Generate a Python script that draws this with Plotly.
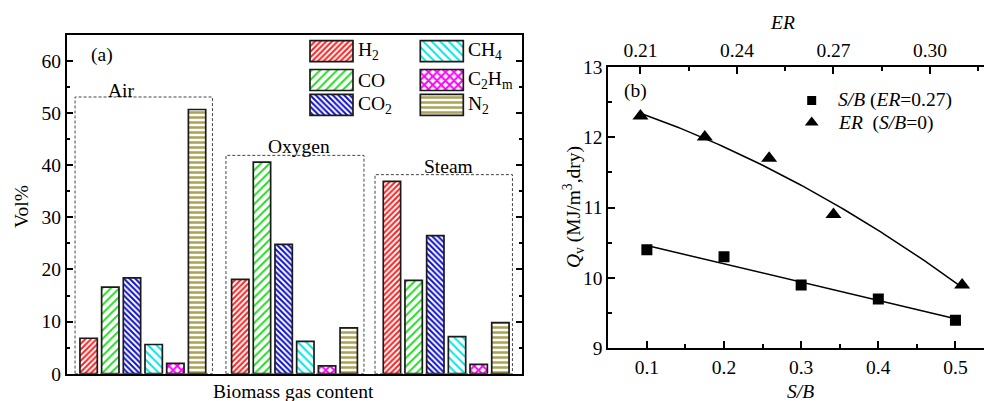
import numpy as np
import plotly.graph_objects as go

W, H = 984, 401
FONT = "Liberation Serif"
TXT = 19.5

# ---- Panel (a): gas composition for three gasifying agents ----
agents = ["Air", "Oxygen", "Steam"]
gas_labels = ["H<sub>2</sub>", "CO", "CO<sub>2</sub>", "CH<sub>4</sub>",
              "C<sub>2</sub>H<sub>m</sub>", "N<sub>2</sub>"]
h2 = [6.8, 18.1, 36.9]
co = [16.6, 40.6, 17.9]
co2 = [18.4, 24.8, 26.5]
ch4 = [5.6, 6.2, 7.1]
c2hm = [2.0, 1.5, 1.8]
n2 = [50.7, 8.8, 9.8]
gas_values = [h2, co, co2, ch4, c2hm, n2]

# hatch style per gas: (line colour, pattern shape, tile size, solidity)
gas_styles = [
    ("#ff2020", "/", 4, 0.5),
    ("#22dd22", "/", 6, 0.32),
    ("#1010cc", "\\", 4, 0.5),
    ("#00e5e5", "\\", 6, 0.32),
    ("#ff00ff", "x", 6, 0.55),
    ("#aaa255", "-", 5, 0.5),
]

# ---- Panel (b): gas heating value ----
sb = [0.1, 0.2, 0.3, 0.4, 0.5]
q_sb = [10.4, 10.3, 9.9, 9.7, 9.4]
er = [0.21, 0.23, 0.25, 0.27, 0.31]
q_er = [12.3, 12.0, 11.7, 10.9, 9.9]


def px_x(p):
    return p / W


def px_y(p):
    return 1 - p / H


def pattern(style):
    color, shape, size, solid = style
    return dict(shape=shape, fgcolor=color, bgcolor="white", size=size,
                solidity=solid, fillmode="replace")


fig = go.Figure()

# grouped hatched bars
for label, vals, st in zip(gas_labels, gas_values, gas_styles):
    fig.add_trace(go.Bar(
        x=agents, y=vals, name=label, showlegend=False,
        marker=dict(color="white", pattern=pattern(st),
                    line=dict(color="#1a1a1a", width=1.7)),
        xaxis="x", yaxis="y"))

# fitted trend lines for panel (b)
c_sb = np.polyfit(sb, q_sb, 1)
sb_line = np.linspace(min(sb), max(sb), 50)
fig.add_trace(go.Scatter(x=sb_line, y=np.polyval(c_sb, sb_line), mode="lines",
                         line=dict(color="black", width=1.5), showlegend=False,
                         xaxis="x2", yaxis="y2"))
c_er = np.polyfit(er, q_er, 2)
er_line = np.linspace(min(er), max(er), 80)
fig.add_trace(go.Scatter(x=er_line, y=np.polyval(c_er, er_line), mode="lines",
                         line=dict(color="black", width=1.5), showlegend=False,
                         xaxis="x4", yaxis="y2"))
fig.add_trace(go.Scatter(x=sb, y=q_sb, mode="markers",
                         marker=dict(symbol="square", size=11, color="black"),
                         showlegend=False, xaxis="x2", yaxis="y2"))
fig.add_trace(go.Scatter(x=er, y=q_er, mode="markers",
                         marker=dict(symbol="triangle-up", size=14, color="black"),
                         showlegend=False, xaxis="x4", yaxis="y2"))

# ---- hand-built legends on a pixel-space overlay axis ----
sw_w, sw_h = 43, 21
sw_cols = [331.5, 441.8]
sw_rows = [51.2, 80.0, 104.8]
annotations = []
for i, (label, st) in enumerate(zip(gas_labels, gas_styles)):
    col, row = divmod(i, 3)
    cx, cy = sw_cols[col], sw_rows[row]
    fig.add_trace(go.Bar(
        x=[cx], y=[sw_h], base=[cy - sw_h / 2], width=[sw_w], offset=[-sw_w / 2],
        marker=dict(color="white", pattern=pattern(st),
                    line=dict(color="#1a1a1a", width=1.7)),
        showlegend=False, xaxis="x3", yaxis="y3", hoverinfo="skip"))
    annotations.append(dict(
        x=px_x(cx + sw_w / 2 + 3), y=px_y(cy), xref="paper", yref="paper",
        text=label, showarrow=False, xanchor="left", yanchor="middle",
        font=dict(size=TXT)))

fig.add_trace(go.Scatter(x=[811.7], y=[100.5], mode="markers",
                         marker=dict(symbol="square", size=9, color="black"),
                         showlegend=False, xaxis="x3", yaxis="y3", hoverinfo="skip"))
fig.add_trace(go.Scatter(x=[811.7], y=[122.5], mode="markers",
                         marker=dict(symbol="triangle-up", size=12, color="black"),
                         showlegend=False, xaxis="x3", yaxis="y3", hoverinfo="skip"))
annotations += [
    dict(x=px_x(836), y=px_y(100), text="<i>S/B</i> (<i>ER</i>=0.27)"),
    dict(x=px_x(836), y=px_y(123), text="<i>ER</i>  (<i>S/B</i>=0)"),
]
for a in annotations[-2:]:
    a.update(xref="paper", yref="paper", showarrow=False, xanchor="left",
             yanchor="middle", font=dict(size=TXT))


# panel letters, group labels, axis titles
def note(x, y, text, **kw):
    d = dict(x=px_x(x), y=px_y(y), xref="paper", yref="paper", text=text,
             showarrow=False, xanchor="center", yanchor="middle",
             font=dict(size=TXT))
    d.update(kw)
    annotations.append(d)


note(102, 55, "(a)")
note(635, 91, "(b)")
note(121.7, 90.5, "Air")
note(299, 146, "Oxygen")
note(448, 166, "Steam")
note(293, 391, "Biomass gas content")
note(21, 207, "Vol%", textangle=-90)
note(800, 391, "<i>S/B</i>")
note(782, 22, "<i>ER</i>")
note(573, 207, "<i>Q</i><sub>v</sub> (MJ/m<sup>3</sup>,dry)", textangle=-90)

# dashed frames round each agent group
box_spans = [(-0.447, 0.459, 53.1), (0.548, 1.458, 41.9), (1.531, 2.437, 38.2)]
shapes = [dict(type="rect", xref="x", yref="y", x0=a, x1=b, y0=0, y1=t,
               line=dict(color="#444444", width=1, dash="3px,2px"), layer="above")
          for a, b, t in box_spans]

axis_common = dict(showline=True, linecolor="black", linewidth=2,
                   ticks="inside", tickcolor="black", tickwidth=1.8,
                   showgrid=False, zeroline=False, tickfont=dict(size=TXT))

fig.update_layout(
    width=W, height=H, margin=dict(l=0, r=0, t=0, b=0, autoexpand=False),
    paper_bgcolor="white", plot_bgcolor="rgba(0,0,0,0)",
    font=dict(family=FONT, size=TXT, color="black"),
    barmode="group", bargap=0.142, bargroupgap=0.2,
    xaxis=dict(domain=[px_x(67), px_x(522)], anchor="y", type="category",
               range=[-0.5, 2.5], showline=True, linecolor="black", linewidth=2,
               mirror=True, ticks="", showticklabels=False, showgrid=False),
    yaxis=dict(domain=[px_y(373.7), px_y(35)], anchor="x", range=[0, 65],
               tickvals=[0, 10, 20, 30, 40, 50, 60], ticklen=6, mirror="allticks",
               minor=dict(dtick=5, ticks="inside", ticklen=3, tickcolor="black"),
               **axis_common),
    xaxis2=dict(domain=[px_x(608.3), 1.0], anchor="y2", range=[0.05, 0.537],
                tick0=0.1, dtick=0.1, ticklen=7, tickformat=".1f",
                minor=dict(dtick=0.05, ticks="inside", ticklen=4, tickcolor="black"),
                **axis_common),
    xaxis4=dict(overlaying="x2", side="top", anchor="y2", range=[0.2, 0.3168],
                tick0=0.21, dtick=0.03, ticklen=7, tickformat=".2f",
                minor=dict(dtick=0.015, ticks="inside", ticklen=4, tickcolor="black"),
                **axis_common),
    yaxis2=dict(domain=[px_y(348.3), px_y(66.7)], anchor="x2", range=[9, 13],
                dtick=1, ticklen=7,
                minor=dict(dtick=0.5, ticks="inside", ticklen=4, tickcolor="black"),
                **axis_common),
    xaxis3=dict(domain=[0, 1], anchor="y3", range=[0, W], visible=False),
    yaxis3=dict(domain=[0, 1], anchor="x3", range=[H, 0], visible=False),
    annotations=annotations, shapes=shapes,
)

fig.write_html("out.html")
